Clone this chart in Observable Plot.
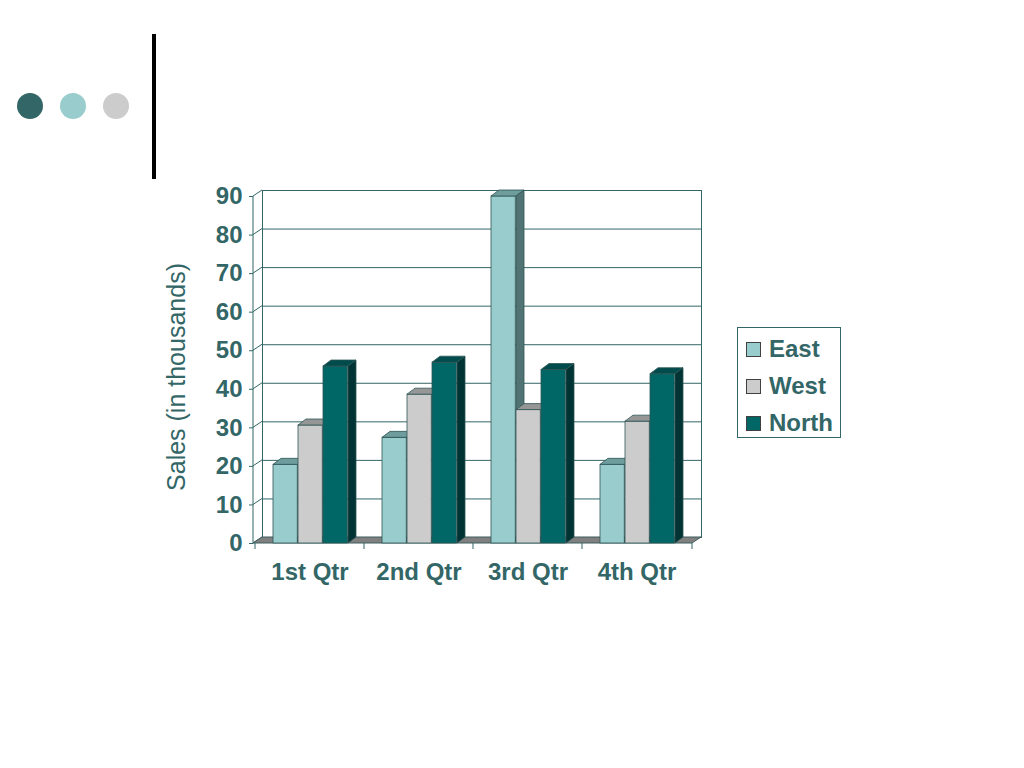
<!DOCTYPE html>
<html>
<head>
<meta charset="utf-8">
<script src="https://cdn.jsdelivr.net/npm/d3@7"></script>
<script src="https://cdn.jsdelivr.net/npm/@observablehq/plot@0.6"></script>
<style>
  html, body { margin: 0; padding: 0; background: #ffffff; width: 1024px; height: 768px; overflow: hidden; }
  body { position: relative; font-family: "Liberation Sans", Arial, sans-serif; }
  #chart { position: absolute; left: 0; top: 0; }
  .dot { position: absolute; width: 26px; height: 26px; border-radius: 50%; }
  #bar { position: absolute; left: 152px; top: 34px; width: 4px; height: 145px; background: #000; }
  #legend { position: absolute; left: 737px; top: 327px; width: 104px; height: 111px; border: 1px solid #336666; box-sizing: border-box; background: #fff; }
  .item { position: absolute; left: 8px; height: 24px; display: flex; align-items: center; color: #336666; font-weight: bold; font-size: 24px; }
  .sw { width: 15px; height: 15px; border: 1px solid #404040; margin-right: 8px; box-sizing: border-box; }
</style>
</head>
<body>
<div class="dot" style="left:17px;top:93px;background:#336666"></div>
<div class="dot" style="left:60px;top:93px;background:#99cccc"></div>
<div class="dot" style="left:103px;top:93px;background:#cccccc"></div>
<div id="bar"></div>
<div id="chart"></div>
<div id="legend"></div>
<script>
// ---- data ----
const quarters = ["1st Qtr", "2nd Qtr", "3rd Qtr", "4th Qtr"];
const seriesNames = ["East", "West", "North"];
const east  = [20.4, 27.4, 90, 20.4];
const west  = [30.6, 38.6, 34.6, 31.6];
const north = [45.9, 46.9, 45, 43.9];
const yTicks = [0, 10, 20, 30, 40, 50, 60, 70, 80, 90];
const yLabel = "Sales (in thousands)";

// ---- styling ----
const frontColors = {East: "#99cccc", West: "#cccccc", North: "#006666"};
const topColors   = {East: "#6f9c9c", West: "#969696", North: "#004c4c"};
const sideColors  = {East: "#527373", West: "#737373", North: "#003333"};
const slot = {East: [18, 43], West: [43, 68], North: [68, 93]};
const ink = "#336666";
const WDX = 9, WDY = -6;   // wall depth
const BDX = 8, BDY = -6;   // bar depth
const NS = "http://www.w3.org/2000/svg";

const valuesBySeries = {East: east, West: west, North: north};
const rows = [];
quarters.forEach((q, i) => seriesNames.forEach(s => rows.push({quarter: q, series: s, value: valuesBySeries[s][i]})));

function el(tag, attrs) {
  const e = document.createElementNS(NS, tag);
  for (const k in attrs) e.setAttribute(k, attrs[k]);
  return e;
}

function bar3d(s, bw) {
  const [a, b] = slot[s];
  return Plot.barY(rows.filter(d => d.series === s), {
    x: "quarter", y: "value",
    fill: frontColors[s], stroke: "#2f5555", strokeWidth: 0.8,
    insetLeft: a, insetRight: bw - b,
    render(index, scales, values, dimensions, context, next) {
      const g = next(index, scales, values, dimensions, context);
      const band = scales.x.bandwidth ? scales.x.bandwidth() : bw;
      for (const i of index) {
        const x0 = values.x[i] + a, x1 = values.x[i] + band - (band - b);
        const yt = Math.min(values.y1[i], values.y2[i]);
        const yb = Math.max(values.y1[i], values.y2[i]);
        g.appendChild(el("polygon", {
          points: `${x0},${yt} ${x1},${yt} ${x1 + BDX},${yt + BDY} ${x0 + BDX},${yt + BDY}`,
          fill: topColors[s], stroke: "#2f5555", "stroke-width": 0.8, "stroke-linejoin": "round"
        }));
        g.appendChild(el("polygon", {
          points: `${x1},${yt} ${x1 + BDX},${yt + BDY} ${x1 + BDX},${yb + BDY} ${x1},${yb}`,
          fill: sideColors[s], stroke: "#2f5555", "stroke-width": 0.8, "stroke-linejoin": "round"
        }));
      }
      return g;
    }
  });
}

const W = 1024, H = 768, ML = 253, MR = 332, MT = 196, MB = 225;
const bw = (W - ML - MR) / quarters.length;

const walls = Plot.ruleY([0], {
  render(index, scales, values, dimensions) {
    const g = el("g", {});
    const L = dimensions.marginLeft, R = dimensions.width - dimensions.marginRight;
    const y0 = scales.y(0), yTop = scales.y(yTicks[yTicks.length - 1]);
    // left wall diagonals
    for (const t of yTicks) {
      const y = scales.y(t);
      g.appendChild(el("line", {x1: L, y1: y, x2: L + WDX, y2: y + WDY, stroke: ink, "stroke-width": 1}));
    }
    // front vertical axis
    g.appendChild(el("line", {x1: L, y1: y0, x2: L, y2: yTop, stroke: ink, "stroke-width": 1}));
    // floor
    g.appendChild(el("polygon", {
      points: `${L},${y0} ${R},${y0} ${R + WDX},${y0 + WDY} ${L + WDX},${y0 + WDY}`,
      fill: "#808080", stroke: "#3d5c5c", "stroke-width": 1
    }));
    // bottom ticks at category boundaries
    const xs = quarters.map(q => scales.x(q)).concat([R]);
    for (const x of xs) g.appendChild(el("line", {x1: x, y1: y0, x2: x, y2: y0 + 6, stroke: ink, "stroke-width": 1}));
    return g;
  }
});

const chart = Plot.plot({
  width: W, height: H,
  marginLeft: ML, marginRight: MR, marginTop: MT, marginBottom: MB,
  style: {fontFamily: "'Liberation Sans', Arial, sans-serif", fontSize: "24px", fontWeight: "bold", color: ink, background: "transparent", overflow: "visible"},
  x: {domain: quarters, padding: 0, tickSize: 0, tickPadding: 19, label: null},
  y: {domain: [0, 90], ticks: yTicks, tickSize: 4, tickPadding: 7, label: null},
  marks: [
    Plot.frame({dx: WDX, dy: WDY, stroke: ink, strokeWidth: 1}),
    Plot.ruleY(yTicks, {dx: WDX, dy: WDY, stroke: ink, strokeWidth: 1}),
    walls,
    bar3d("East", bw),
    bar3d("West", bw),
    bar3d("North", bw),
    Plot.text([yLabel], {text: d => d, frameAnchor: "left", textAnchor: "middle", lineAnchor: "middle", rotate: -90, dx: -77, dy: 7, fontSize: 25, fontWeight: "normal", fill: ink})
  ]
});
document.getElementById("chart").appendChild(chart);

// legend
const legend = document.getElementById("legend");
seriesNames.forEach((s, i) => {
  const it = document.createElement("div");
  it.className = "item";
  it.style.top = (9 + i * 37) + "px";
  const sw = document.createElement("span");
  sw.className = "sw";
  sw.style.background = frontColors[s];
  it.appendChild(sw);
  it.appendChild(document.createTextNode(s));
  legend.appendChild(it);
});
</script>
</body>
</html>
